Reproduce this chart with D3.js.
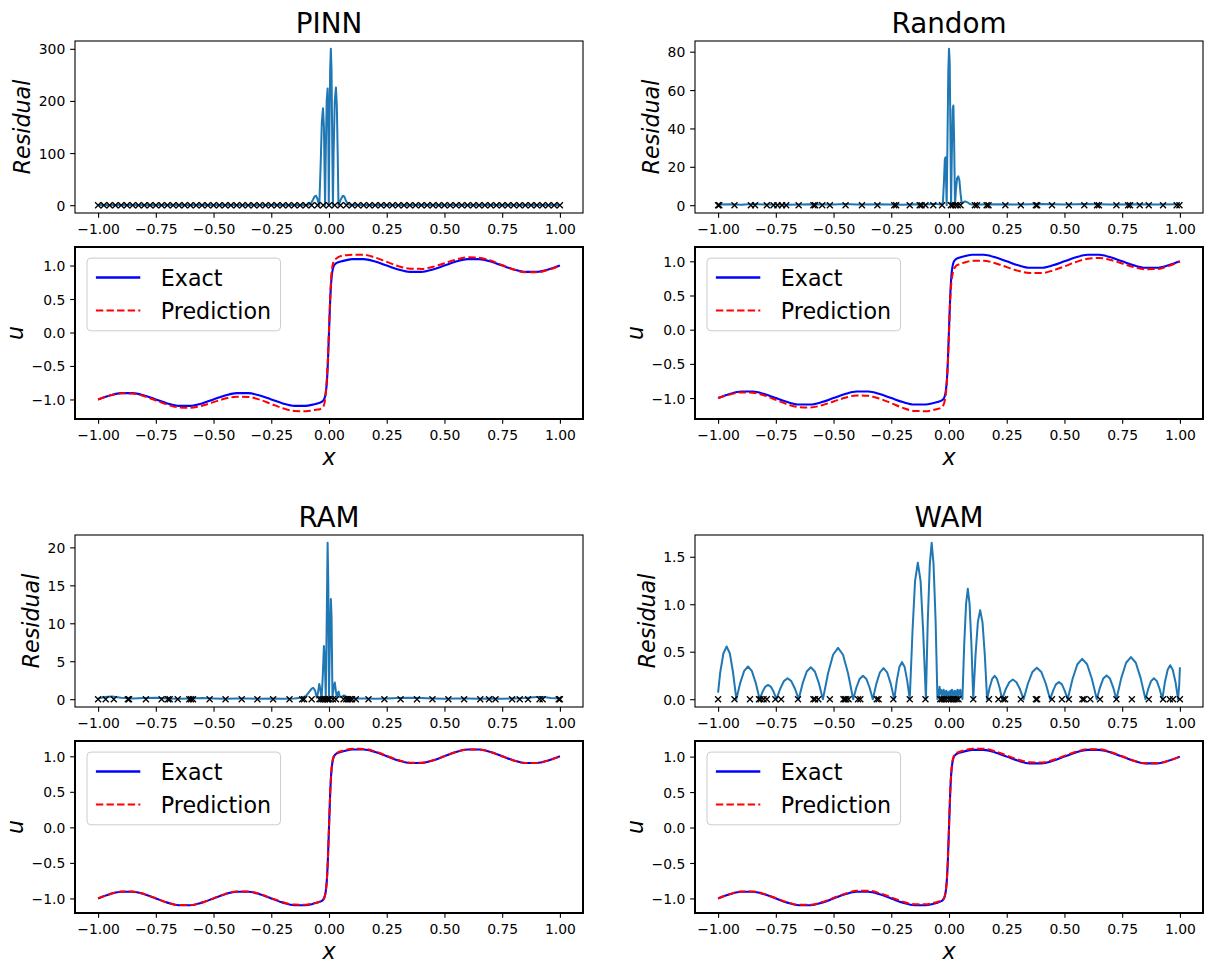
<!DOCTYPE html>
<html><head><meta charset="utf-8">
<script src="https://cdn.jsdelivr.net/npm/d3@7"></script>
<style>html,body{margin:0;padding:0;background:#fff}svg{display:block}</style>
</head><body>
<svg id="chart" width="1210" height="963"></svg>
<script>
// ---------------- DATA ----------------
const xTicks = [-1, -0.75, -0.5, -0.25, 0, 0.25, 0.5, 0.75, 1];
const uTicks = [-1, -0.5, 0, 0.5, 1];
const resTicksPINN = [0, 100, 200, 300];
const resTicksRandom = [0, 20, 40, 60, 80];
const resTicksRAM = [0, 5, 10, 15, 20];
const resTicksWAM = [0, 0.5, 1.0, 1.5];
const titles = ["PINN", "Random", "RAM", "WAM"];
const legendLabels = ["Exact", "Prediction"];

const xGrid = [-1,-0.95,-0.9,-0.85,-0.8,-0.75,-0.7,-0.65,-0.6,-0.55,-0.5,-0.45,-0.4,-0.35,-0.3,-0.25,-0.2,-0.15,-0.1,
  -0.075,-0.05,-0.04,-0.03,-0.02,-0.01,-0.005,0,0.005,0.01,0.02,0.03,0.04,0.05,0.075,
  0.1,0.15,0.2,0.25,0.3,0.35,0.4,0.45,0.5,0.55,0.6,0.65,0.7,0.75,0.8,0.85,0.9,0.95,1];
const uExact = [-1.0,-0.941,-0.905,-0.905,-0.941,-1.0,-1.059,-1.095,-1.095,-1.059,-1.0,-0.941,-0.905,-0.905,-0.941,-1.0,-1.059,-1.095,-1.095,
  -1.081,-1.059,-1.048,-1.032,-0.989,-0.774,-0.468,0,0.468,0.774,0.989,1.032,1.048,1.059,1.081,
  1.095,1.095,1.059,1.0,0.941,0.905,0.905,0.941,1.0,1.059,1.095,1.095,1.059,1.0,0.941,0.905,0.905,0.941,1.0];
const uPredPINN = [-1.0,-0.943,-0.908,-0.912,-0.952,-1.015,-1.078,-1.118,-1.123,-1.093,-1.04,-0.987,-0.958,-0.962,-1.003,-1.067,-1.131,-1.172,-1.175,
  -1.165,-1.15,-1.145,-1.13,-1.06,-0.72,-0.4,0.05,0.5,0.85,1.06,1.1,1.125,1.14,1.155,
  1.16,1.16,1.119,1.055,0.991,0.953,0.95,0.981,1.035,1.089,1.122,1.117,1.074,1.008,0.941,0.9,0.899,0.937,0.997];
const uPredRandom = [-1.0,-0.948,-0.918,-0.922,-0.962,-1.027,-1.092,-1.132,-1.137,-1.105,-1.05,-0.995,-0.962,-0.968,-1.01,-1.075,-1.144,-1.188,-1.192,
  -1.18,-1.16,-1.15,-1.13,-1.06,-0.8,-0.5,-0.05,0.42,0.68,0.87,0.93,0.95,0.965,0.99,
  1.008,1.008,0.972,0.915,0.86,0.828,0.828,0.866,0.926,0.99,1.036,1.048,1.02,0.968,0.915,0.885,0.888,0.93,0.997];
const uPredRAM = [-1.0,-0.941,-0.904,-0.904,-0.94,-0.999,-1.058,-1.094,-1.094,-1.058,-0.999,-0.94,-0.903,-0.902,-0.937,-0.995,-1.052,-1.087,-1.088,
  -1.075,-1.055,-1.045,-1.03,-0.985,-0.77,-0.465,0.0,0.47,0.78,0.995,1.04,1.058,1.07,1.092,
  1.105,1.104,1.067,1.007,0.947,0.91,0.909,0.944,1.002,1.06,1.096,1.096,1.06,1.0,0.941,0.905,0.905,0.941,1.0];
const uPredWAM = [-1.0,-0.94,-0.903,-0.902,-0.937,-0.995,-1.054,-1.09,-1.089,-1.052,-0.992,-0.932,-0.893,-0.891,-0.926,-0.985,-1.045,-1.082,-1.083,
  -1.07,-1.05,-1.04,-1.025,-0.98,-0.765,-0.46,0.005,0.475,0.785,1.0,1.045,1.062,1.074,1.096,
  1.11,1.11,1.075,1.016,0.957,0.92,0.918,0.952,1.01,1.068,1.104,1.103,1.066,1.005,0.944,0.906,0.905,0.941,1.0];

// residual curves as [x, residual] pairs
const resPINN = [[-1,0.3],[-0.5,0.3],[-0.1,0.3],[-0.09,0.5],[-0.08,2],[-0.07,10],[-0.062,17],[-0.056,18],[-0.05,12],[-0.045,3],[-0.042,0],
  [-0.036,80],[-0.031,160],[-0.026,186],[-0.022,150],[-0.019,60],[-0.017,0],
  [-0.014,100],[-0.010,200],[-0.006,224],[-0.003,150],[-0.001,0],
  [0.002,150],[0.005,260],[0.008,300],[0.011,260],[0.014,120],[0.017,0],
  [0.020,100],[0.025,200],[0.030,226],[0.034,190],[0.038,90],[0.041,0],
  [0.046,5],[0.052,12],[0.06,18],[0.066,17],[0.074,8],[0.082,2],[0.09,0.5],[0.1,0.3],[0.5,0.3],[1,0.3]];
const resRandom = [[-1,0.3],[-0.95,0.5],[-0.9,0.2],[-0.85,0.6],[-0.8,0.3],[-0.75,0.4],[-0.7,0.2],[-0.6,0.5],[-0.5,0.3],[-0.45,0.6],[-0.4,0.3],
  [-0.3,0.5],[-0.2,0.2],[-0.15,0.5],[-0.1,0.3],[-0.06,0.8],[-0.04,0.4],[-0.03,0.5],
  [-0.026,2],[-0.022,12],[-0.018,24],[-0.015,25],[-0.012,10],[-0.01,0],
  [-0.007,30],[-0.003,70],[0.0,81.5],[0.003,75],[0.006,40],[0.009,0],
  [0.012,25],[0.016,50],[0.019,52],[0.022,35],[0.026,0],
  [0.03,8],[0.035,14],[0.04,15],[0.045,13],[0.05,6],[0.055,1],[0.062,1.5],[0.07,2],[0.08,1.5],[0.09,0.6],[0.1,0.3],
  [0.2,0.5],[0.3,0.3],[0.4,0.6],[0.5,0.3],[0.6,0.6],[0.7,0.3],[0.8,0.5],[0.9,0.3],[1.0,0.5]];
const resRAM = [[-1,0.1],[-0.97,0.3],[-0.94,0.35],[-0.9,0.2],[-0.85,0.1],[-0.8,0.15],[-0.75,0.2],[-0.7,0.1],[-0.65,0.05],[-0.6,0.1],[-0.55,0.15],
  [-0.5,0.1],[-0.45,0.05],[-0.4,0.1],[-0.35,0.1],[-0.3,0.05],[-0.25,0.1],[-0.2,0.05],[-0.15,0.1],[-0.12,0.2],[-0.1,0.4],
  [-0.085,1.0],[-0.075,1.4],[-0.068,1.5],[-0.06,1.1],[-0.053,0.2],[-0.048,0.8],[-0.042,2.0],[-0.037,1.2],[-0.032,0.1],
  [-0.027,3],[-0.022,7],[-0.018,5],[-0.014,0.2],[-0.01,10],[-0.006,20.6],[-0.003,15],[0.0,0.3],[0.004,8],[0.008,13.2],[0.011,11],[0.015,0.3],
  [0.02,1.5],[0.025,2.2],[0.03,1.0],[0.034,0.2],[0.038,0.8],[0.042,1.0],[0.047,0.3],[0.055,0.3],[0.065,0.5],[0.075,0.3],[0.09,0.2],[0.1,0.1],
  [0.15,0.1],[0.2,0.05],[0.25,0.1],[0.3,0.15],[0.35,0.2],[0.4,0.15],[0.45,0.1],[0.5,0.05],[0.55,0.1],[0.6,0.1],[0.65,0.05],[0.7,0.1],
  [0.75,0.05],[0.8,0.1],[0.85,0.15],[0.9,0.3],[0.93,0.3],[0.96,0.15],[1.0,0.1]];
const resWAM = [[-1.0,0.07],[-0.991,0.278],[-0.977,0.481],[-0.963,0.555],[-0.949,0.481],[-0.935,0.278],[-0.921,0],
  [-0.904,0.172],[-0.887,0.298],[-0.8705,0.344],[-0.854,0.298],[-0.837,0.172],[-0.82,0],
  [-0.808,0.075],[-0.796,0.13],[-0.7835,0.15],[-0.771,0.13],[-0.759,0.075],[-0.747,0],
  [-0.731,0.11],[-0.715,0.19],[-0.699,0.22],[-0.683,0.19],[-0.667,0.11],[-0.651,0],
  [-0.6335,0.169],[-0.616,0.292],[-0.5985,0.337],[-0.581,0.292],[-0.5635,0.169],[-0.546,0],
  [-0.524,0.27],[-0.502,0.468],[-0.4805,0.54],[-0.459,0.468],[-0.437,0.27],[-0.415,0],
  [-0.401,0.123],[-0.387,0.213],[-0.3725,0.246],[-0.358,0.213],[-0.344,0.123],[-0.33,0],
  [-0.3145,0.164],[-0.299,0.283],[-0.2835,0.327],[-0.268,0.283],[-0.2525,0.164],[-0.237,0],
  [-0.226,0.195],[-0.215,0.338],[-0.2035,0.39],[-0.192,0.338],[-0.181,0.195],[-0.17,0],
  [-0.158,0.719],[-0.147,1.244],[-0.135,1.437],[-0.123,1.244],[-0.112,0.719],[-0.1,0],
  [-0.092,0.824],[-0.083,1.426],[-0.075,1.647],[-0.067,1.426],[-0.058,0.824],[-0.05,0],
  [-0.047,0.09],[-0.044,0.04],[-0.041,0.13],[-0.038,0.06],[-0.035,0.1],[-0.032,0.03],[-0.029,0.09],[-0.026,0.05],[-0.023,0.1],
  [-0.02,0.02],[-0.017,0.08],[-0.014,0.04],[-0.011,0.09],[-0.008,0.02],[-0.005,0.07],[-0.002,0.03],[0.001,0.08],[0.004,0.02],
  [0.007,0.09],[0.01,0.04],[0.013,0.1],[0.016,0.03],[0.019,0.08],[0.022,0.05],[0.025,0.09],[0.028,0.02],[0.031,0.08],[0.034,0.04],
  [0.037,0.1],[0.04,0.03],[0.043,0.09],[0.046,0.05],[0.049,0.1],[0.052,0.03],[0.055,0.07],[0.058,0],
  [0.066,0.582],[0.074,1.007],[0.0815,1.163],[0.089,1.007],[0.097,0.582],[0.105,0],
  [0.115,0.469],[0.125,0.812],[0.135,0.938],[0.145,0.812],[0.155,0.469],[0.165,0],
  [0.176,0.123],[0.187,0.213],[0.1975,0.246],[0.208,0.213],[0.219,0.123],[0.23,0],
  [0.2455,0.104],[0.261,0.179],[0.2765,0.207],[0.292,0.179],[0.3075,0.104],[0.323,0],
  [0.342,0.165],[0.361,0.286],[0.3805,0.33],[0.4,0.286],[0.419,0.165],[0.438,0],
  [0.451,0.09],[0.463,0.156],[0.476,0.18],[0.489,0.156],[0.501,0.09],[0.514,0],
  [0.535,0.213],[0.556,0.368],[0.577,0.425],[0.598,0.368],[0.619,0.213],[0.64,0],
  [0.654,0.125],[0.668,0.217],[0.6825,0.25],[0.697,0.217],[0.711,0.125],[0.725,0],
  [0.746,0.222],[0.767,0.384],[0.788,0.443],[0.809,0.384],[0.83,0.222],[0.851,0],
  [0.863,0.11],[0.875,0.19],[0.8875,0.22],[0.9,0.19],[0.912,0.11],[0.924,0],
  [0.935,0.179],[0.947,0.31],[0.958,0.358],[0.969,0.31],[0.981,0.179],[0.992,0],
  [0.997,0.15],[1.0,0.337]];

// collocation points (plotted at residual 0)
const ptsPINN = [-1,-0.975,-0.95,-0.925,-0.9,-0.875,-0.85,-0.825,-0.8,-0.775,-0.75,-0.725,-0.7,-0.675,-0.65,-0.625,-0.6,-0.575,-0.55,-0.525,
  -0.5,-0.475,-0.45,-0.425,-0.4,-0.375,-0.35,-0.325,-0.3,-0.275,-0.25,-0.225,-0.2,-0.175,-0.15,-0.125,-0.1,-0.075,-0.05,-0.025,0,
  0.025,0.05,0.075,0.1,0.125,0.15,0.175,0.2,0.225,0.25,0.275,0.3,0.325,0.35,0.375,0.4,0.425,0.45,0.475,0.5,0.525,0.55,0.575,0.6,
  0.625,0.65,0.675,0.7,0.725,0.75,0.775,0.8,0.825,0.85,0.875,0.9,0.925,0.95,0.975,1];
const ptsRandom = [-1.0,-0.995,-0.929,-0.858,-0.840,-0.789,-0.760,-0.743,-0.723,-0.705,-0.651,-0.587,-0.580,-0.549,-0.516,-0.448,-0.377,-0.310,
  -0.237,-0.229,-0.170,-0.127,-0.119,-0.102,-0.068,-0.030,0.008,0.016,0.028,0.038,0.050,0.112,0.121,0.163,0.171,0.244,0.311,0.376,0.382,
  0.446,0.519,0.586,0.641,0.649,0.725,0.776,0.784,0.826,0.865,0.927,0.986,0.998];
const ptsRAM = [-1.0,-0.967,-0.932,-0.871,-0.866,-0.793,-0.725,-0.697,-0.690,-0.655,-0.605,-0.597,-0.589,-0.517,-0.448,-0.378,-0.310,-0.242,
  -0.171,-0.116,-0.108,-0.075,-0.041,-0.033,-0.025,-0.017,-0.008,-0.003,0.003,0.017,0.030,0.063,0.075,0.083,0.091,0.100,0.116,0.171,
  0.240,0.310,0.381,0.448,0.517,0.585,0.655,0.693,0.721,0.793,0.826,0.862,0.912,0.925,0.995,1.0];
const ptsWAM = [-1.0,-0.929,-0.862,-0.823,-0.816,-0.803,-0.789,-0.752,-0.727,-0.654,-0.587,-0.580,-0.566,-0.516,-0.457,-0.451,-0.445,-0.435,
  -0.394,-0.384,-0.313,-0.305,-0.241,-0.170,-0.102,-0.038,-0.031,-0.023,-0.013,-0.001,0.008,0.016,0.024,0.033,0.041,0.105,0.173,0.214,
  0.235,0.243,0.311,0.376,0.382,0.446,0.489,0.519,0.578,0.585,0.612,0.654,0.725,0.792,0.865,0.927,0.956,0.970,1.0];

// ---------------- LAYOUT ----------------
const colX = [75, 695], boxW = 508;
const resTop = [41, 535], uTop = [247, 741], boxH = 172;
const FONT = "DejaVu Sans";
const TICK = 13.9, LABEL = 22.2, TITLE = 27.8, LEG = 22.2;

const panels = [
  {title: titles[0], col: 0, row: 0, res: resPINN, pts: ptsPINN, pred: uPredPINN, rt: resTicksPINN, rf: d3.format("d")},
  {title: titles[1], col: 1, row: 0, res: resRandom, pts: ptsRandom, pred: uPredRandom, rt: resTicksRandom, rf: d3.format("d")},
  {title: titles[2], col: 0, row: 1, res: resRAM, pts: ptsRAM, pred: uPredRAM, rt: resTicksRAM, rf: d3.format("d")},
  {title: titles[3], col: 1, row: 1, res: resWAM, pts: ptsWAM, pred: uPredWAM, rt: resTicksWAM, rf: d3.format(".1f")}
];

const svg = d3.select("#chart").attr("font-family", FONT);

function padDomain(lo, hi) { const r = hi - lo; return [lo - 0.05 * r, hi + 0.05 * r]; }

function drawAxes(g, x, y, xt, xf, yt, yf, h) {
  const ax = g.append("g").attr("transform", `translate(0,${h})`)
    .call(d3.axisBottom(x).tickValues(xt).tickFormat(xf).tickSize(4.86).tickPadding(4.86));
  ax.select(".domain").remove();
  ax.selectAll("line").attr("stroke", "#000").attr("stroke-width", 1.1);
  ax.selectAll("text").attr("font-size", TICK).attr("dy", "0.81em").attr("fill", "#000").attr("font-family", FONT);
  const ay = g.append("g")
    .call(d3.axisLeft(y).tickValues(yt).tickFormat(yf).tickSize(4.86).tickPadding(4.86));
  ay.select(".domain").remove();
  ay.selectAll("line").attr("stroke", "#000").attr("stroke-width", 1.1);
  ay.selectAll("text").attr("font-size", TICK).attr("dy", "0.36em").attr("fill", "#000").attr("font-family", FONT);
  let maxW = 0;
  ay.selectAll("text").each(function () { maxW = Math.max(maxW, this.getComputedTextLength()); });
  return 4.86 + 4.86 + maxW;
}

panels.forEach(p => {
  const left = colX[p.col];
  const x = d3.scaleLinear().domain([-1.1, 1.1]).range([0, boxW]);

  // ----- residual panel -----
  const gR = svg.append("g").attr("transform", `translate(${left},${resTop[p.row]})`);
  const rMax = d3.max(p.res, d => d[1]);
  const yR = d3.scaleLinear().domain(padDomain(0, rMax)).range([boxH, 0]);
  gR.append("path").datum(p.res)
    .attr("d", d3.line().x(d => x(d[0])).y(d => yR(d[1])))
    .attr("fill", "none").attr("stroke", "#1f77b4").attr("stroke-width", 2).attr("stroke-linejoin", "round");
  gR.selectAll("path.mk").data(p.pts).enter().append("path").attr("class", "mk")
    .attr("transform", d => `translate(${x(d)},${yR(0)})`)
    .attr("d", "M-3,-3L3,3M-3,3L3,-3")
    .attr("stroke", "#000").attr("stroke-width", 1.3).attr("fill", "none");
  const wR = drawAxes(gR, x, yR, xTicks, d3.format(".2f"), p.rt, p.rf, boxH);
  gR.append("rect").attr("width", boxW).attr("height", boxH).attr("fill", "none").attr("stroke", "#000").attr("stroke-width", 1.1);
  gR.append("text").attr("x", boxW / 2).attr("y", -8.5).attr("text-anchor", "middle")
    .attr("font-size", TITLE).attr("fill", "#000").text(p.title);
  gR.append("text").attr("transform", `translate(${-wR - 8.5},${boxH / 2}) rotate(-90)`)
    .attr("text-anchor", "middle").attr("font-size", LABEL).attr("font-style", "italic").attr("fill", "#000").text("Residual");

  // ----- solution panel -----
  const gU = svg.append("g").attr("transform", `translate(${left},${uTop[p.row]})`);
  const lo = Math.min(d3.min(uExact), d3.min(p.pred)), hi = Math.max(d3.max(uExact), d3.max(p.pred));
  const yU = d3.scaleLinear().domain(padDomain(lo, hi)).range([boxH, 0]);
  const lineU = vals => d3.line().curve(d3.curveMonotoneX).x((d, i) => x(xGrid[i])).y(d => yU(d))(vals);
  gU.append("path").attr("d", lineU(uExact)).attr("fill", "none").attr("stroke", "#0000ff").attr("stroke-width", 2.1);
  gU.append("path").attr("d", lineU(p.pred)).attr("fill", "none").attr("stroke", "#ff0000").attr("stroke-width", 2)
    .attr("stroke-dasharray", "7.4,3.2");
  const wU = drawAxes(gU, x, yU, xTicks, d3.format(".2f"), uTicks, d3.format(".1f"), boxH);
  gU.append("rect").attr("width", boxW).attr("height", boxH).attr("fill", "none").attr("stroke", "#000").attr("stroke-width", 2);
  gU.append("text").attr("x", boxW / 2).attr("y", boxH + 45.5).attr("text-anchor", "middle")
    .attr("font-size", LABEL).attr("font-style", "italic").attr("fill", "#000").text("x");
  gU.append("text").attr("transform", `translate(${-wU - 9},${boxH / 2}) rotate(-90)`)
    .attr("text-anchor", "middle").attr("font-size", LABEL).attr("font-style", "italic").attr("fill", "#000").text("u");

  // legend
  const lg = gU.append("g").attr("transform", "translate(12,11.1)");
  const frame = lg.append("rect").attr("rx", 4).attr("ry", 4).attr("fill", "rgba(255,255,255,0.8)")
    .attr("stroke", "#cccccc").attr("stroke-width", 1);
  const rows = [{label: legendLabels[0], color: "#0000ff", dash: null, w: 2.6},
                {label: legendLabels[1], color: "#ff0000", dash: "7.4,3.2", w: 2}];
  let maxT = 0;
  rows.forEach((r, i) => {
    const cy = 8.9 + 10.5 + i * 33.1;
    const ln = lg.append("line").attr("x1", 8.9).attr("x2", 8.9 + 44.4).attr("y1", cy).attr("y2", cy)
      .attr("stroke", r.color).attr("stroke-width", r.w);
    if (r.dash) ln.attr("stroke-dasharray", r.dash);
    const t = lg.append("text").attr("x", 8.9 + 44.4 + 20.5).attr("y", cy + 8.1)
      .attr("font-size", LEG).attr("fill", "#000").text(r.label);
    maxT = Math.max(maxT, t.node().getComputedTextLength());
  });
  frame.attr("width", 8.9 + 44.4 + 20.5 + maxT + 9.5).attr("height", 72.7);
});
</script>
</body></html>
